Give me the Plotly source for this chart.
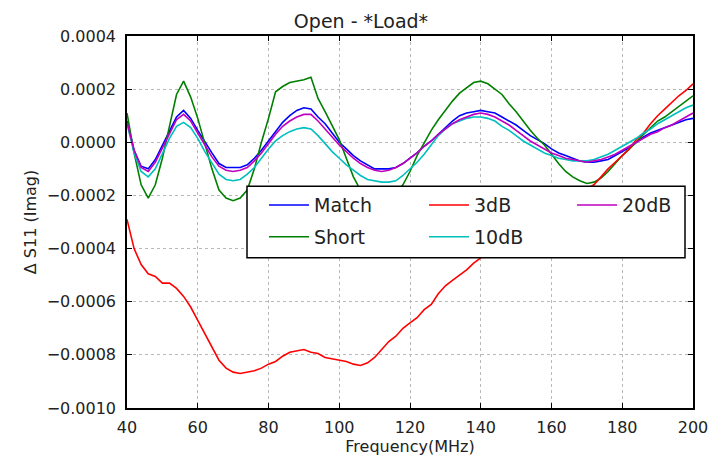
import plotly.graph_objects as go

# Frequency samples (MHz)
freq = [40, 42, 44, 46, 48, 50, 52, 54, 56, 58,
        60, 62, 64, 66, 68, 70, 72, 74, 76, 78,
        80, 82, 84, 86, 88, 90, 92, 94, 96, 98,
        100, 102, 104, 106, 108, 110, 112, 114, 116, 118,
        120, 122, 124, 126, 128, 130, 132, 134, 136, 138,
        140, 142, 144, 146, 148, 150, 152, 154, 156, 158,
        160, 162, 164, 166, 168, 170, 172, 174, 176, 178,
        180, 182, 184, 186, 188, 190, 192, 194, 196, 198, 200]

# Values in units of 1e-4
match_e4 = [0.8, -0.3, -0.9, -1.0, -0.65, -0.1, 0.45, 0.95, 1.2, 0.9,
            0.45, 0.0, -0.4, -0.8, -0.95, -0.95, -0.95, -0.85, -0.6, -0.3,
            0.05, 0.4, 0.75, 1.0, 1.2, 1.3, 1.25, 0.95, 0.7, 0.35,
            0.0, -0.25, -0.5, -0.7, -0.85, -1.0, -1.0, -1.0, -0.95, -0.8,
            -0.6, -0.4, -0.15, 0.05, 0.3, 0.55, 0.8, 1.0, 1.1, 1.15,
            1.2, 1.15, 1.1, 0.95, 0.8, 0.65, 0.45, 0.25, 0.1, -0.05,
            -0.25, -0.4, -0.5, -0.6, -0.7, -0.75, -0.75, -0.7, -0.65, -0.5,
            -0.35, -0.2, 0.0, 0.2, 0.35, 0.45, 0.55, 0.65, 0.75, 0.85, 0.9]

short_e4 = [1.1, -0.4, -1.6, -2.1, -1.6, -0.6, 0.6, 1.8, 2.3, 1.7,
            0.9, -0.1, -1.0, -1.8, -2.1, -2.2, -2.1, -1.8, -1.0, 0.0,
            0.9, 1.9, 2.1, 2.25, 2.3, 2.35, 2.45, 1.65, 1.15, 0.65,
            0.1, -0.6, -1.3, -1.8, -2.1, -2.3, -2.3, -2.2, -1.95, -1.6,
            -1.1, -0.5, 0.0, 0.45, 0.85, 1.2, 1.55, 1.85, 2.05, 2.25,
            2.3, 2.2, 2.0, 1.8, 1.45, 1.15, 0.8, 0.45, 0.15, -0.1,
            -0.45, -0.8, -1.1, -1.3, -1.45, -1.55, -1.5, -1.35, -1.1, -0.8,
            -0.5, -0.25, 0.0, 0.3, 0.55, 0.8, 0.95, 1.15, 1.35, 1.55, 1.75]

db3_e4 = [-2.9, -4.0, -4.6, -4.95, -5.05, -5.3, -5.3, -5.5, -5.8, -6.2,
          -6.7, -7.2, -7.7, -8.2, -8.5, -8.65, -8.7, -8.65, -8.6, -8.5,
          -8.35, -8.25, -8.05, -7.9, -7.85, -7.8, -7.9, -7.95, -8.1, -8.15,
          -8.2, -8.25, -8.35, -8.4, -8.3, -8.1, -7.8, -7.5, -7.3, -7.0,
          -6.8, -6.6, -6.3, -6.1, -5.7, -5.4, -5.2, -5.0, -4.8, -4.55,
          -4.35, -4.15, -3.95, -3.7, -3.5, -3.3, -3.1, -2.9, -2.7, -2.5,
          -2.35, -2.2, -2.05, -1.95, -1.85, -1.75, -1.6, -1.3, -1.0, -0.75,
          -0.5, -0.25, 0.1, 0.35, 0.7, 1.0, 1.25, 1.5, 1.75, 1.95, 2.2]

db10_e4 = [0.7, -0.4, -1.1, -1.3, -1.0, -0.45, 0.15, 0.6, 0.75, 0.55,
           0.15, -0.35, -0.8, -1.2, -1.4, -1.45, -1.4, -1.2, -0.95, -0.6,
           -0.25, 0.05, 0.25, 0.4, 0.5, 0.55, 0.5, 0.25, -0.05, -0.35,
           -0.6, -0.85, -1.05, -1.25, -1.4, -1.45, -1.5, -1.5, -1.45, -1.25,
           -1.0, -0.75, -0.45, -0.1, 0.25, 0.5, 0.7, 0.8, 0.9, 0.95,
           0.95, 0.9, 0.8, 0.6, 0.45, 0.25, 0.05, -0.1, -0.25, -0.4,
           -0.5, -0.6, -0.65, -0.7, -0.7, -0.7, -0.65, -0.55, -0.45, -0.3,
           -0.15, 0.0, 0.15, 0.35, 0.5, 0.7, 0.85, 1.0, 1.15, 1.3, 1.4]

db20_e4 = [0.75, -0.3, -0.95, -1.1, -0.75, -0.2, 0.35, 0.85, 1.05, 0.8,
           0.35, -0.1, -0.55, -0.9, -1.05, -1.1, -1.05, -0.95, -0.7, -0.4,
           -0.05, 0.3, 0.6, 0.8, 0.95, 1.05, 1.05, 0.8, 0.5, 0.2,
           -0.1, -0.35, -0.6, -0.8, -0.95, -1.05, -1.1, -1.05, -0.95, -0.8,
           -0.6, -0.4, -0.15, 0.05, 0.3, 0.5, 0.7, 0.85, 0.95, 1.05,
           1.1, 1.05, 0.95, 0.8, 0.65, 0.45, 0.25, 0.05, -0.1, -0.25,
           -0.4, -0.5, -0.6, -0.65, -0.7, -0.75, -0.7, -0.65, -0.55, -0.45,
           -0.3, -0.15, 0.0, 0.15, 0.3, 0.4, 0.55, 0.65, 0.8, 0.95, 1.1]

series_names = ["Match", "Short", "3dB", "10dB", "20dB"]
series_colors = ["#0000ff", "#008000", "#ff0000", "#00bfbf", "#bf00bf"]

x_tick_vals = [40, 60, 80, 100, 120, 140, 160, 180, 200]
x_tick_text = ["40", "60", "80", "100", "120", "140", "160", "180", "200"]
y_tick_vals = [-0.0010, -0.0008, -0.0006, -0.0004, -0.0002, 0.0, 0.0002, 0.0004]
y_tick_text = ["\u22120.0010", "\u22120.0008", "\u22120.0006", "\u22120.0004",
               "\u22120.0002", "0.0000", "0.0002", "0.0004"]

SCALE = 1e-4
all_series = [match_e4, short_e4, db3_e4, db10_e4, db20_e4]

# legend grid placement (pixel positions of each entry: left, row centre)
legend_ids = ["legend", "legend2", "legend3", "legend4", "legend5"]
legend_px = [(264, 206), (264, 238), (424, 206), (424, 238), (572, 206)]

fig = go.Figure()
for name, col, leg, vals in zip(series_names, series_colors, legend_ids, all_series):
    assert len(vals) == len(freq)
    fig.add_trace(go.Scatter(
        x=freq, y=[v * SCALE for v in vals], mode="lines", name=name,
        line=dict(color=col, width=1.6), legend=leg))

FONT = "DejaVu Sans"
axis_common = dict(
    showline=True, linecolor="black", linewidth=1.5, mirror="ticks",
    ticks="inside", ticklen=5, tickcolor="black", tickwidth=1,
    showgrid=True, gridcolor="#b8b8b8", griddash="3px,3px", gridwidth=1,
    zeroline=False, tickfont=dict(family=FONT, size=16, color="#222"),
)

PW, PH, L, B = 566, 374, 127, 54
def px_x(p):
    return (p - L) / PW
def px_y(p):
    return (464 - B - p) / PH

legend_common = dict(orientation="v", xanchor="left", yanchor="middle",
                     bgcolor="rgba(0,0,0,0)", borderwidth=0,
                     font=dict(family=FONT, size=19, color="#222"),
                     itemwidth=40)
legend_layout = {lid: dict(x=px_x(px), y=px_y(py), **legend_common)
                 for lid, (px, py) in zip(legend_ids, legend_px)}

fig.update_layout(
    width=722, height=464,
    margin=dict(l=L, r=722 - L - PW, t=464 - B - PH, b=B),
    paper_bgcolor="white", plot_bgcolor="white",
    font=dict(family=FONT, color="#222"),
    title=dict(text="Open - *Load*", x=0.5, xanchor="center",
               y=1 - 21 / 464, yanchor="middle",
               font=dict(family=FONT, size=19, color="#222")),
    xaxis=dict(range=[40, 200], tickvals=x_tick_vals, ticktext=x_tick_text,
               title=dict(text="Frequency(MHz)", font=dict(family=FONT, size=16), standoff=4),
               ticklabelstandoff=4, **axis_common),
    yaxis=dict(range=[-0.0010, 0.0004], tickvals=y_tick_vals, ticktext=y_tick_text,
               title=dict(text="\u0394 S11 (Imag)", font=dict(family=FONT, size=16), standoff=6),
               ticklabelstandoff=6, **axis_common),
    shapes=[dict(type="rect", xref="paper", yref="paper",
                 x0=px_x(247), x1=px_x(685), y0=px_y(259), y1=px_y(187),
                 fillcolor="white", line=dict(color="black", width=1.5),
                 layer="above")],
    showlegend=True,
    **legend_layout,
)

fig.write_html("out.html")
